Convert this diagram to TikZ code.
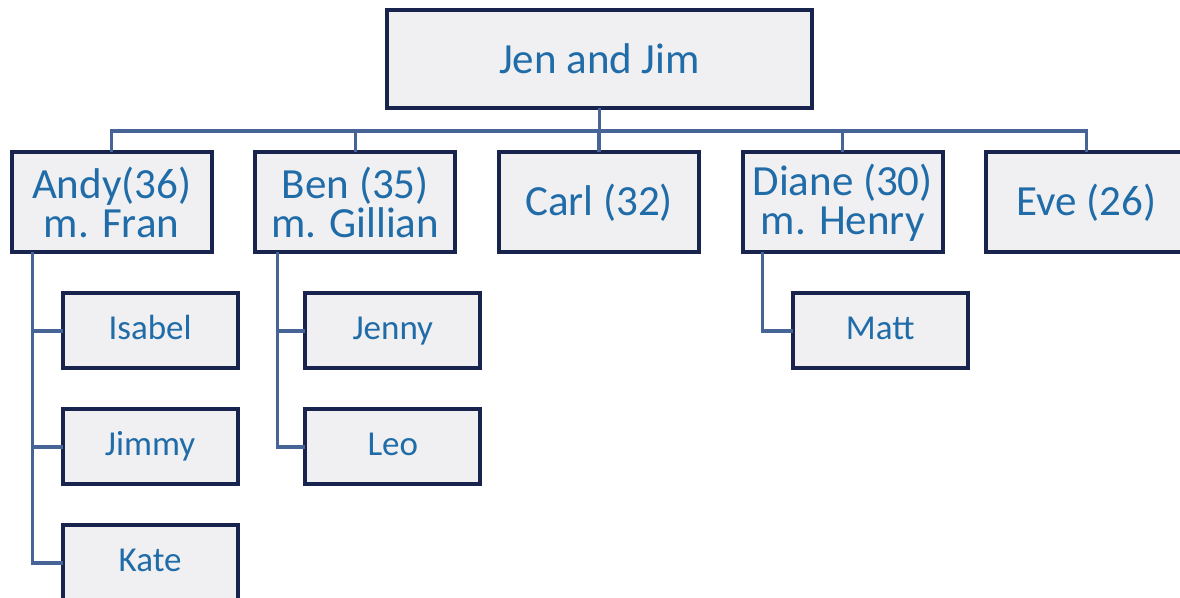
\documentclass[tikz,border=0pt]{standalone}
\usepackage{fontspec}
\setmainfont{Carlito}
\usepackage{tikz}
\usetikzlibrary{positioning,calc}
\definecolor{boxline}{RGB}{24,36,78}
\definecolor{boxfill}{RGB}{240,240,242}
\definecolor{nametext}{RGB}{31,108,168}
\definecolor{linkline}{RGB}{70,100,150}

\begin{document}
\begin{tikzpicture}[x=0.5pt,y=-0.5pt,node distance=20.5pt]
  \tikzstyle{person}=[draw=boxline, line width=2pt, fill=boxfill, text=nametext,
                      align=center, inner sep=0pt, outer sep=0pt]
  \tikzstyle{couple}=[person, minimum width=212.5pt, minimum height=49pt,
                      font=\fontsize{21.5pt}{19.5pt}\selectfont]
  \tikzstyle{child}=[person, minimum width=100pt, minimum height=50pt,
                     font=\fontsize{21.5pt}{19.5pt}\selectfont]
  \tikzstyle{grandchild}=[person, minimum width=87.5pt, minimum height=37.5pt,
                          text height=12pt, text depth=3.5pt,
                          font=\fontsize{17.5pt}{19pt}\selectfont]
  \tikzstyle{link}=[draw=linkline, line width=1.6pt]

  \useasboundingbox (0,0) rectangle (1180,598);

  \node[couple] (jj) at (599.5,59) {Jen and Jim};
  \coordinate (bus) at (599.5,131);

  \node[child] (carl)  at (599,202.5)          {Carl (32)};
  \node[child] (ben)   [left=21.85pt of carl]   {Ben (35)\\m. Gillian};
  \node[child] (andy)  [left=21.85pt of ben]    {Andy(36)\\m. Fran};
  \node[child] (diane) [right=21.85pt of carl]  {Diane (30)\\m. Henry};
  \node[child] (eve)   [right=21.85pt of diane] {Eve (26)};

  \node[grandchild] (isabel) [below right=20.5pt and 25.5pt of andy.south west] {Isabel};
  \node[grandchild] (jimmy)  [below=of isabel] {Jimmy};
  \node[grandchild] (kate)   [below=of jimmy]  {Kate};
  \node[grandchild] (jenny)  [below right=20.5pt and 25pt of ben.south west] {Jenny};
  \node[grandchild] (leo)    [below=of jenny]  {Leo};
  \node[grandchild] (matt)   [below right=20.5pt and 25pt of diane.south west] {Matt};

  \foreach \k in {andy,ben,carl,diane,eve}
    \draw[link] (jj.south) -- (jj.south |- bus) -| (\k.north);

  \coordinate (andyleg)  at ($(andy.south west)+(21,0)$);
  \coordinate (benleg)   at ($(ben.south west)+(22,0)$);
  \coordinate (dianeleg) at ($(diane.south west)+(20,0)$);

  \draw[link] (andyleg) |- (kate.west)
              (andyleg |- isabel.west) -- (isabel.west)
              (andyleg |- jimmy.west) -- (jimmy.west);
  \draw[link] (benleg) |- (leo.west)
              (benleg |- jenny.west) -- (jenny.west);
  \draw[link] (dianeleg) |- (matt.west);
\end{tikzpicture}
\end{document}
